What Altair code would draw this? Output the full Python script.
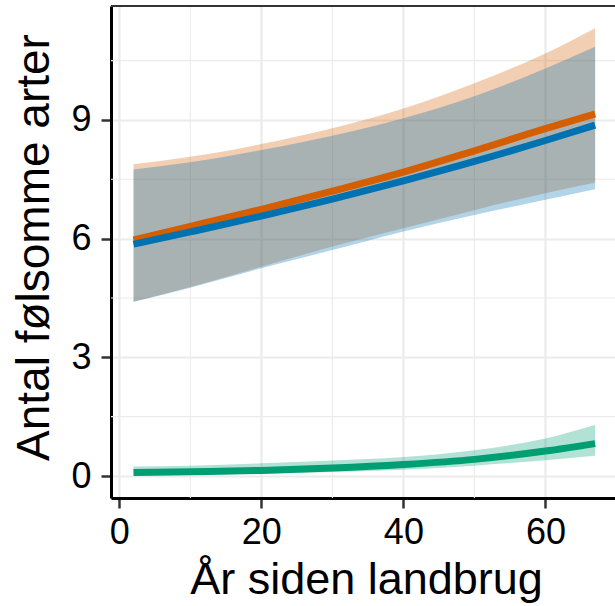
import altair as alt
import pandas as pd

# x positions (years since agriculture)
years = [2, 10, 20, 30, 40, 50, 60, 67]

orange_est = [5.97, 6.31, 6.74, 7.20, 7.68, 8.22, 8.78, 9.15]
orange_lo = [4.41, 4.78, 5.29, 5.80, 6.26, 6.72, 7.15, 7.41]
orange_hi = [7.88, 8.07, 8.39, 8.79, 9.29, 9.93, 10.68, 11.32]

blue_est = [5.86, 6.17, 6.57, 7.00, 7.46, 7.95, 8.48, 8.87]
blue_lo = [4.40, 4.76, 5.25, 5.71, 6.18, 6.60, 6.98, 7.25]
blue_hi = [7.75, 7.93, 8.24, 8.60, 9.04, 9.60, 10.30, 10.85]

green_est = [0.09, 0.11, 0.14, 0.20, 0.29, 0.42, 0.63, 0.82]
green_lo = [0.03, 0.04, 0.06, 0.10, 0.16, 0.26, 0.40, 0.51]
green_hi = [0.24, 0.26, 0.32, 0.39, 0.48, 0.65, 0.95, 1.29]

x_ticks = [0, 20, 40, 60]
x_minor = [10, 30, 50]
y_ticks = [0, 3, 6, 9]
y_minor = [1.5, 4.5, 7.5, 10.5]

series = [
    ("orange", "#D55E00", orange_est, orange_lo, orange_hi),
    ("blue", "#0072B2", blue_est, blue_lo, blue_hi),
    ("green", "#009E73", green_est, green_lo, green_hi),
]

FONT = "Liberation Sans"
X_TITLE = "År siden landbrug"
Y_TITLE = "Antal følsomme arter"

xscale = alt.Scale(domain=[-1.17, 69.8], nice=False, zero=False)
yscale = alt.Scale(domain=[-0.556, 11.88], nice=False, zero=False)

xaxis = alt.Axis(
    values=x_ticks, grid=True, gridColor="#EBEBEB", gridWidth=2.2,
    domainColor="black", domainWidth=3, tickColor="#333333", tickWidth=2.5,
    tickSize=10, labelFontSize=36, labelColor="black", labelFont=FONT,
    labelPadding=7, titleFont=FONT, titleFontSize=45, titleColor="black",
    titleFontWeight="normal", titleX=255, titleY=95, titleAlign="center",
    titleBaseline="alphabetic", labelFlush=False,
)
yaxis = alt.Axis(
    values=y_ticks, grid=True, gridColor="#EBEBEB", gridWidth=2.2,
    domainColor="black", domainWidth=3, tickColor="#333333", tickWidth=2.5,
    tickSize=10, labelFontSize=36, labelColor="black", labelFont=FONT,
    labelPadding=10, titleFont=FONT, titleFontSize=46, titleColor="black",
    titleFontWeight="normal", titleX=-63, titleY=241, titleAlign="center",
    titleBaseline="alphabetic", titleAngle=270, labelFlush=False,
)

def X(field):
    return alt.X(field, type="quantitative", scale=xscale, axis=xaxis, title=X_TITLE)

def Y(field):
    return alt.Y(field, type="quantitative", scale=yscale, axis=yaxis, title=Y_TITLE)

layers = []

# minor grid lines
layers.append(
    alt.Chart(pd.DataFrame({"v": x_minor})).mark_rule(color="#EBEBEB", strokeWidth=1.1)
    .encode(x=X("v"))
)
layers.append(
    alt.Chart(pd.DataFrame({"v": y_minor})).mark_rule(color="#EBEBEB", strokeWidth=1.1)
    .encode(y=Y("v"))
)

frames = {}
for name, col, est, lo, hi in series:
    frames[name] = pd.DataFrame({"x": years, "est": est, "lo": lo, "hi": hi})

# ribbons
for name, col, est, lo, hi in series:
    layers.append(
        alt.Chart(frames[name]).mark_area(color=col, opacity=0.3, interpolate="monotone")
        .encode(x=X("x"), y=Y("lo"), y2="hi")
    )
# lines
for name, col, est, lo, hi in series:
    layers.append(
        alt.Chart(frames[name]).mark_line(color=col, strokeWidth=7, interpolate="monotone")
        .encode(x=X("x"), y=Y("est"))
    )

# top panel border
layers.append(
    alt.Chart(pd.DataFrame({"v": [0]})).mark_rule(color="#333333", strokeWidth=2)
    .encode(y=alt.value(0))
)

chart = (
    alt.layer(*layers)
    .properties(
        width=504, height=492,
        padding={"left": 111, "top": 6, "right": 0, "bottom": 108},
        autosize=alt.AutoSizeParams(type="none"),
        background="white",
    )
    .configure_view(stroke=None)
)

chart.save("out.html", embed_options={"renderer": "svg", "actions": False})
